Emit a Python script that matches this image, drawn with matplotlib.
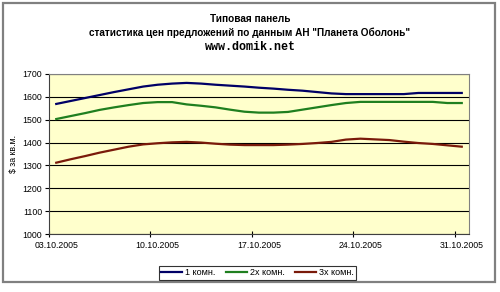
import datetime as dt
import matplotlib
matplotlib.use("Agg")
import matplotlib.pyplot as plt
from matplotlib.patches import Rectangle

plt.rcParams['font.family'] = ['Liberation Sans', 'DejaVu Sans']

# daily prices, 03.10.2005 .. 31.10.2005
start = dt.date(2005, 10, 3)
one_room = [1569, 1582, 1595, 1608, 1621, 1633, 1645, 1653, 1658, 1661,
            1658, 1653, 1649, 1645, 1640, 1636, 1631, 1627, 1621, 1615,
            1612, 1612, 1612, 1612, 1612, 1617, 1617, 1617, 1617]
two_room = [1503, 1516, 1529, 1543, 1554, 1564, 1573, 1577, 1577, 1567,
            1561, 1554, 1544, 1535, 1531, 1531, 1534, 1544, 1554, 1564,
            1573, 1578, 1578, 1578, 1578, 1578, 1578, 1573, 1573]
three_room = [1312, 1327, 1341, 1356, 1369, 1382, 1392, 1397, 1401, 1403,
              1400, 1395, 1391, 1389, 1389, 1389, 1391, 1394, 1398, 1403,
              1413, 1417, 1414, 1411, 1404, 1398, 1394, 1388, 1382]
series_names = ["1 комн.", "2х комн.", "3х комн."]
colors = ["#000066", "#1f7f1f", "#7a1a0a"]

days = list(range(len(one_room)))
dates = [start + dt.timedelta(days=d) for d in days]
label_days = days[::7]
label_text = [dates[d].strftime("%d.%m.%Y") for d in label_days]

fig = plt.figure(figsize=(5, 2.92), dpi=100)
ax = fig.add_axes([0.098, 0.1986, 0.84, 0.548])
ax.set_facecolor("#ffffcc")

for vals, name, c in zip([one_room, two_room, three_room], series_names, colors):
    ax.plot(days, vals, color=c, lw=1.6, label=name)

ax.set_xlim(-0.5, len(days) - 0.5)
ax.set_ylim(1000, 1700)
ax.set_yticks(range(1000, 1701, 100))
ax.grid(axis="y", color="black", lw=0.8)
ax.set_axisbelow(True)

# labels centred on the day, tick marks on the day boundary
ax.set_xticks(label_days)
ax.set_xticklabels(label_text)
ax.tick_params(axis="x", which="major", length=0, pad=5, labelsize=6.3)
ax.set_xticks([d - 0.5 for d in label_days], minor=True)
ax.tick_params(axis="x", which="minor", length=4, direction="inout", width=0.8)
ax.tick_params(axis="y", length=3, width=0.8, labelsize=6.3, pad=2)

for s in ["top", "right"]:
    ax.spines[s].set_color("#808080")
for s in ["left", "bottom"]:
    ax.spines[s].set_color("#404040")

ax.set_ylabel("$ за кв.м.", fontsize=6.3, labelpad=3)

fig.text(0.5, 0.935, "Типовая панель", ha="center", va="center", fontsize=7.2, fontweight="bold")
fig.text(0.5, 0.887, 'статистика цен предложений по данным АН "Планета Оболонь"',
         ha="center", va="center", fontsize=7.2, fontweight="bold")
fig.text(0.5, 0.838, "www.domik.net", ha="center", va="center", fontsize=8.5,
         fontweight="bold", family="Liberation Mono")

leg = fig.legend(loc="center", bbox_to_anchor=(0.515, 0.066), ncol=3, fontsize=6.5,
                 frameon=True, fancybox=False, edgecolor="black", handlelength=2.3,
                 handletextpad=0.3, columnspacing=1.2, borderpad=0.3)
leg.get_frame().set_linewidth(0.8)

fig.patches.append(Rectangle((3 / 500, 1 - 282 / 292), 492 / 500, 279 / 292,
                             transform=fig.transFigure, fill=False,
                             edgecolor="#808080", lw=1.6, zorder=-1))

fig.savefig("out.png", dpi=100)
